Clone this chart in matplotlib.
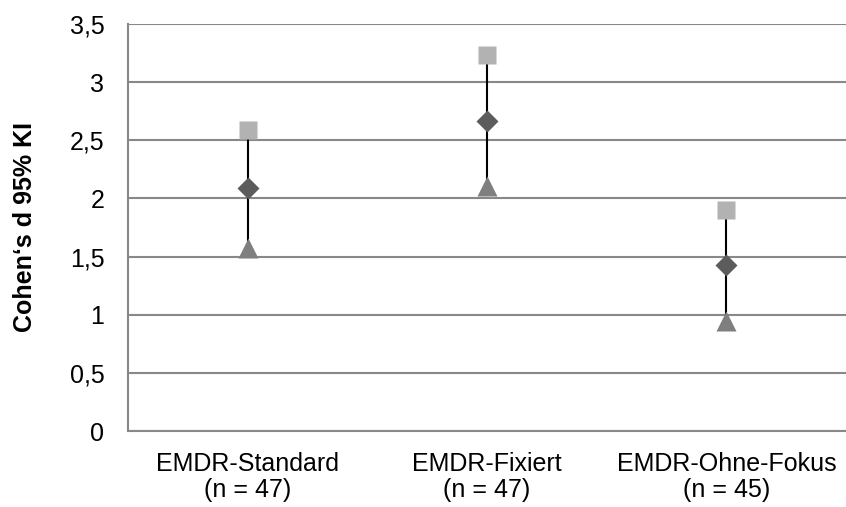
import numpy as np
import matplotlib.pyplot as plt

plt.rcParams["font.family"] = ["Liberation Sans", "DejaVu Sans"]

# Effect sizes with 95% CI
groups = ["EMDR-Standard\n(n = 47)", "EMDR-Fixiert\n(n = 47)", "EMDR-Ohne-Fokus\n(n = 45)"]
upper = [2.59, 3.23, 1.90]
mean_d = [2.09, 2.67, 1.43]
lower = [1.57, 2.11, 0.95]

x = np.arange(len(groups))

fig = plt.figure(figsize=(8.46, 5.07), dpi=100)
ax = fig.add_axes([0.1513, 0.1499, 0.8487, 0.8028])

ax.vlines(x, lower, upper, color="black", lw=1.5, zorder=2)
ax.plot(x, upper, "s", color="#b2b2b2", ms=13, mec="none", zorder=3)
ax.plot(x, mean_d, "D", color="#5c5c5c", ms=11, mec="none", zorder=3)
ax.plot(x, lower, "^", color="#7f7f7f", ms=14, mec="none", zorder=3)

ax.set_xlim(-0.5, 2.5)
ax.set_ylim(0, 3.5)
yt = np.arange(0, 3.51, 0.5)
ax.set_yticks(yt)
ax.set_yticklabels([f"{v:g}".replace(".", ",") for v in yt])
ax.set_xticks(x)
ax.set_xticklabels(groups, linespacing=1.12)
ax.yaxis.grid(True, color="#888888", lw=1.5)
ax.set_axisbelow(True)

for s in ["top", "right"]:
    ax.spines[s].set_visible(False)
for s in ["left", "bottom"]:
    ax.spines[s].set_color("#888888")
    ax.spines[s].set_linewidth(1.5)
ax.tick_params(length=0, labelsize=18)
ax.tick_params(axis="y", pad=17)
ax.tick_params(axis="x", pad=15)
ax.set_ylabel("Cohen‘s d 95% KI", fontsize=18, fontweight="bold")
ax.yaxis.set_label_coords(-91 / 718, 0.5)

fig.savefig("out.png", dpi=100)
